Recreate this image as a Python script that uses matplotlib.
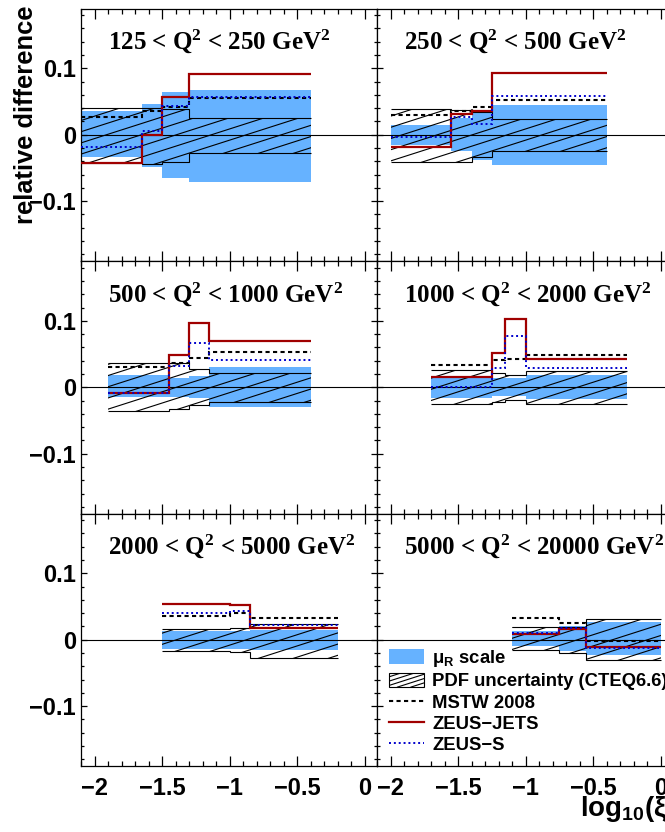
import numpy as np
import matplotlib.pyplot as plt
from matplotlib.collections import LineCollection
from matplotlib.patches import Patch, Rectangle
from matplotlib.lines import Line2D
from matplotlib.legend_handler import HandlerBase
from matplotlib.ticker import MultipleLocator, FuncFormatter

plt.rcParams['font.family'] = ['Liberation Sans', 'DejaVu Sans']
plt.rcParams['font.weight'] = 'bold'
plt.rcParams['mathtext.default'] = 'regular'

# Q^2 ranges, one panel each (row by row, left to right)
titles = ['125 < Q$^2$ < 250 GeV$^2$', '250 < Q$^2$ < 500 GeV$^2$',
          '500 < Q$^2$ < 1000 GeV$^2$', '1000 < Q$^2$ < 2000 GeV$^2$',
          '2000 < Q$^2$ < 5000 GeV$^2$', '5000 < Q$^2$ < 20000 GeV$^2$']

# log10(xi) bin edges
edges = [[-2.1, -1.65, -1.5, -1.3, -0.4],
         [-2.0, -1.55, -1.4, -1.25, -0.4],
         [-1.9, -1.45, -1.3, -1.15, -0.4],
         [-1.7, -1.25, -1.15, -1.0, -0.25],
         [-1.5, -1.0, -0.85, -0.2],
         [-1.1, -0.75, -0.55, 0.0]]

# renormalisation scale band
mur_up = [[0.036, 0.047, 0.064, 0.068],
          [0.014, 0.025, 0.034, 0.045],
          [0.0185, 0.0145, 0.017, 0.031],
          [0.016, 0.0135, 0.0135, 0.0185],
          [0.0125, 0.0125, 0.014],
          [0.0125, 0.02, 0.0265]]
mur_dn = [[-0.034, -0.048, -0.065, -0.071],
          [-0.015, -0.025, -0.038, -0.046],
          [-0.014, -0.014, -0.0165, -0.029],
          [-0.0165, -0.013, -0.013, -0.0175],
          [-0.0145, -0.0145, -0.016],
          [-0.01, -0.0175, -0.0235]]

# CTEQ6.6 PDF uncertainty band
pdf_up = [[0.041, 0.041, 0.039, 0.025],
          [0.039, 0.037, 0.034, 0.023],
          [0.036, 0.037, 0.0275, 0.022],
          [0.026, 0.021, 0.0185, 0.025],
          [0.0155, 0.0175, 0.024],
          [0.0185, 0.0185, 0.0315]]
pdf_dn = [[-0.043, -0.044, -0.041, -0.027],
          [-0.041, -0.041, -0.034, -0.025],
          [-0.035, -0.032, -0.0265, -0.0215],
          [-0.0255, -0.0215, -0.019, -0.025],
          [-0.017, -0.0185, -0.027],
          [-0.016, -0.02, -0.03]]

# other PDF sets, relative to CTEQ6.6
mstw = [[0.027, 0.036, 0.042, 0.056],
        [0.029, 0.036, 0.042, 0.053],
        [0.030, 0.037, 0.0435, 0.0525],
        [0.0335, 0.041, 0.043, 0.0485],
        [0.0355, 0.0405, 0.0325],
        [0.0325, 0.025, -0.0015]]
zeus_jets = [[-0.042, 0.0, 0.057, 0.091],
             [-0.019, 0.031, 0.036, 0.093],
             [-0.009, 0.0485, 0.096, 0.0695],
             [0.016, 0.052, 0.1025, 0.042],
             [0.0535, 0.0525, 0.0175],
             [0.0085, 0.0165, -0.0115]]
zeus_s = [[-0.018, 0.005, 0.044, 0.057],
          [-0.004, 0.026, 0.016, 0.058],
          [-0.009, 0.032, 0.067, 0.041],
          [0.001, 0.0285, 0.077, 0.0295],
          [0.0405, 0.0435, 0.0225],
          [0.01, 0.0175, -0.0125]]

BLUE = '#66b2ff'
RED = '#a00000'
DASH = (0, (2, 1.6))
DOT = (0, (1, 1.5))
HATCH_SLOPE = 0.32   # rise per pixel of run
HATCH_STEP = 35      # horizontal spacing in pixels

W_PX, H_PX = 665, 832
fig = plt.figure(figsize=(W_PX / 100, H_PX / 100), dpi=100)


def hatch(ax, clip):
    x0, x1 = ax.get_xlim()
    y0, y1 = ax.get_ylim()
    pos = ax.get_position()
    sx = (x1 - x0) / (pos.width * W_PX)
    sy = (y1 - y0) / (pos.height * H_PX)
    slope = HATCH_SLOPE * sy / sx
    run = (y1 - y0) / slope
    starts = np.arange(x0 - run, x1 + HATCH_STEP * sx, HATCH_STEP * sx)
    segs = [[(s, y0), (s + run, y1)] for s in starts]
    lc = LineCollection(segs, colors='black', linewidths=0.8, zorder=2)
    ax.add_collection(lc, autolim=False)
    lc.set_clip_path(clip)


class HatchBox(HandlerBase):
    def create_artists(self, legend, orig_handle, xdescent, ydescent,
                       width, height, fontsize, trans):
        box = Rectangle((-xdescent, -ydescent), width, height,
                        facecolor='white', edgecolor='black', lw=0.8,
                        transform=trans)
        step = width / 2.6
        run = height / HATCH_SLOPE
        segs = [[(-xdescent + s, -ydescent), (-xdescent + s + run, -ydescent + height)]
                for s in np.arange(-run, width + step, step)]
        lc = LineCollection(segs, colors='black', linewidths=0.8, transform=trans)
        lc.set_clip_path(box)
        return [box, lc]


fmt = FuncFormatter(lambda v, p: f'{v + 0:g}'.replace('-', '\u2212'))

L, R, AW, AH = 81, 377, 296, 252.5
tops = [8.5, 261, 513.5]
axes = []
for r, t in enumerate(tops):
    for c, left in enumerate([L, R]):
        ax = fig.add_axes([left / W_PX, 1 - (t + AH) / H_PX, AW / W_PX, AH / H_PX])
        axes.append((ax, r, c))

for i, (ax, r, c) in enumerate(axes):
    e = edges[i]
    ax.set_xlim(-2.1, 0.09)
    ax.set_ylim(-0.19, 0.19)

    ax.stairs(mur_up[i], e, baseline=mur_dn[i], fill=True,
              facecolor=BLUE, edgecolor='none', zorder=1)
    band = ax.stairs(pdf_up[i], e, baseline=pdf_dn[i], fill=True,
                     facecolor='none', edgecolor='none', zorder=2)
    hatch(ax, band)
    ax.stairs(pdf_up[i], e, baseline=None, color='black', lw=0.8, zorder=3)
    ax.stairs(pdf_dn[i], e, baseline=None, color='black', lw=0.8, zorder=3)
    ax.axhline(0, color='black', lw=0.8, zorder=3)
    ax.stairs(mstw[i], e, baseline=None, color='black', ls=DASH, lw=1.5, zorder=4)
    ax.stairs(zeus_jets[i], e, baseline=None, color=RED, lw=1.6, zorder=5)
    ax.stairs(zeus_s[i], e, baseline=None, color='#0000cc', ls=DOT, lw=1.4, zorder=6)

    ax.text(27 / AW, 1 - 40.5 / AH, titles[i], transform=ax.transAxes,
            family=['Liberation Serif'], fontsize=18, weight='bold', va='baseline')

    ax.xaxis.set_major_locator(MultipleLocator(0.5))
    ax.xaxis.set_minor_locator(MultipleLocator(0.1))
    ax.yaxis.set_major_locator(MultipleLocator(0.1))
    ax.yaxis.set_minor_locator(MultipleLocator(0.02))
    ax.xaxis.set_major_formatter(fmt)
    ax.yaxis.set_major_formatter(fmt)
    ax.tick_params(which='both', direction='in', top=True, right=True,
                   width=0.9, labelsize=17)
    ax.tick_params(axis='x', which='major', length=7.2, pad=8)
    ax.tick_params(axis='x', which='minor', length=3.6)
    ax.tick_params(axis='y', which='major', length=4.3, pad=3.6)
    ax.tick_params(axis='y', which='minor', length=2.2)
    ax.tick_params(labelleft=(c == 0), labelbottom=(r == 2))
    for s in ax.spines.values():
        s.set_linewidth(0.9)

fig.text(26 / W_PX, 1 - 6 / H_PX, 'relative difference', rotation=90,
         ha='center', va='top', fontsize=18.4, weight='bold')
fig.text(676 / W_PX, 1 - 816 / H_PX, 'log$_{10}$(ξ)', ha='right',
         va='baseline', fontsize=20, weight='bold')

pdf_handle = Patch(label='PDF uncertainty (CTEQ6.6)')
handles = [Patch(facecolor=BLUE, edgecolor='none', label='μ$_R$ scale'),
           pdf_handle,
           Line2D([], [], color='black', ls=DASH, lw=1.5, label='MSTW 2008'),
           Line2D([], [], color=RED, lw=1.6, label='ZEUS\u2212JETS'),
           Line2D([], [], color='#0000cc', ls=DOT, lw=1.4, label='ZEUS\u2212S')]
axes[5][0].legend(handles=handles, handler_map={pdf_handle: HatchBox()},
                  loc='upper left', bbox_to_anchor=(389 / W_PX, 1 - 648 / H_PX),
                  bbox_transform=fig.transFigure, frameon=False, fontsize=13.3,
                  borderpad=0, borderaxespad=0, handlelength=1.9,
                  handleheight=0.85, handletextpad=0.43, labelspacing=0.19)

fig.savefig('out.png', dpi=100)
